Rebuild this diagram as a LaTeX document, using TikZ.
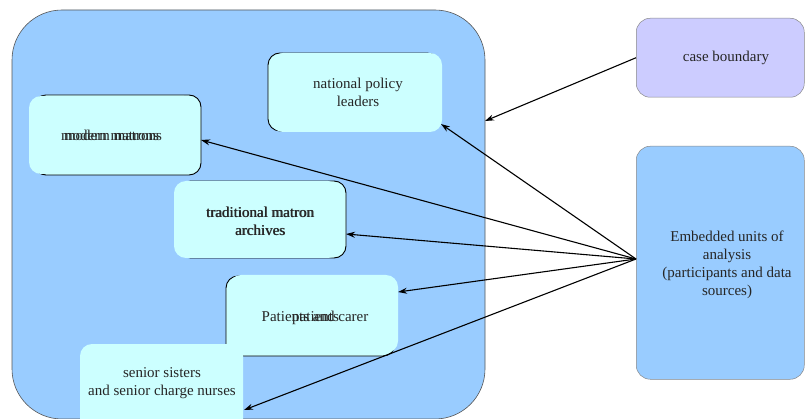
\documentclass[tikz,border=0pt]{standalone}
\usepackage{fontspec}
\setmainfont{Liberation Serif}
\usetikzlibrary{arrows.meta}
\definecolor{outerblue}{HTML}{99CCFF}
\definecolor{unitcyan}{HTML}{CCFFFF}
\definecolor{caselilac}{HTML}{CCCCFF}
\definecolor{edgegrey}{HTML}{555555}
\tikzset{
  txt/.style={font=\fontsize{15}{18}\selectfont, text=black!85, align=center, inner sep=0pt},
  unitback/.style={draw=black, line width=0.9pt, fill=unitcyan, rounded corners=12pt},
  unitfront/.style={fill=unitcyan, rounded corners=12pt},
  sidebox/.style={draw=edgegrey!70, line width=0.5pt, rounded corners=14pt},
  link/.style={line width=1.1pt, -{Stealth[length=9pt,width=6pt]}}
}
\begin{document}
\begin{tikzpicture}[x=1pt,y=-1pt]
\useasboundingbox (0,0) rectangle (805,419);

% case container
\draw[fill=outerblue, draw=edgegrey, line width=0.6pt, rounded corners=50pt]
  (12,10) rectangle (485,419);
\coordinate (caseedge) at (485,121);

% national policy leaders
\draw[unitback] (268,53) rectangle (439,131);
\fill[unitfront] (271,53) rectangle (442,132);
\node[txt] (policy) at (358,92) {national policy\\leaders};
\coordinate (policyin) at (441,124);

% modern matrons, set twice with a small shift
\draw[unitback] (34,95) rectangle (201,175);
\fill[unitfront] (29,96) rectangle (196,174);
\node[txt, anchor=base] (matronsb) at (113,141) {modern matrons};
\node[txt, anchor=base] (matrons) at (110,141) {modern matrons};
\coordinate (matronsin) at (201,140);

% traditional matron archives
\draw[unitback] (179,181) rectangle (346,258);
\fill[unitfront] (174,181) rectangle (340,258);
\node[txt] (archivesb) at (260.6,221) {traditional matron\\archives};
\node[txt] (archives) at (260,221) {traditional matron\\archives};
\coordinate (archivesin) at (346,234);

% patients and carer
\draw[unitback] (226,276) rectangle (395,356);
\fill[unitfront] (229,275) rectangle (398,353);
\node[txt, anchor=base] (patients) at (315,321) {Patients and carer};
\node[txt, anchor=base west] (patientsb) at (292,321) {patients};
\coordinate (patientsin) at (398,292);

% senior sisters and senior charge nurses
\fill[unitfront] (80,344) rectangle (243,432);
\node[txt] (seniors) at (162,383) {senior sisters\\and senior charge nurses};
\coordinate (seniorsin) at (244,410);

% legend boxes
\node[sidebox, fill=caselilac, minimum width=168pt, minimum height=79pt, anchor=north west]
  (boundary) at (636,18) {};
\node[txt] (boundarytext) at (726,58) {case boundary};
\node[sidebox, fill=outerblue, minimum width=168pt, minimum height=233pt, anchor=north west]
  (units) at (636,146) {};
\node[txt] (unitstext) at (727,265) {Embedded units of\\analysis\\(participants and data\\sources)};
\coordinate (fan) at (636,259);

% connectors
\draw[link] (boundary.west) -- (caseedge);
\draw[link] (fan) -- (policyin);
\draw[link] (fan) -- (matronsin);
\draw[link] (fan) -- (archivesin);
\draw[link] (fan) -- (patientsin);
\draw[link] (fan) -- (seniorsin);
\end{tikzpicture}
\end{document}
